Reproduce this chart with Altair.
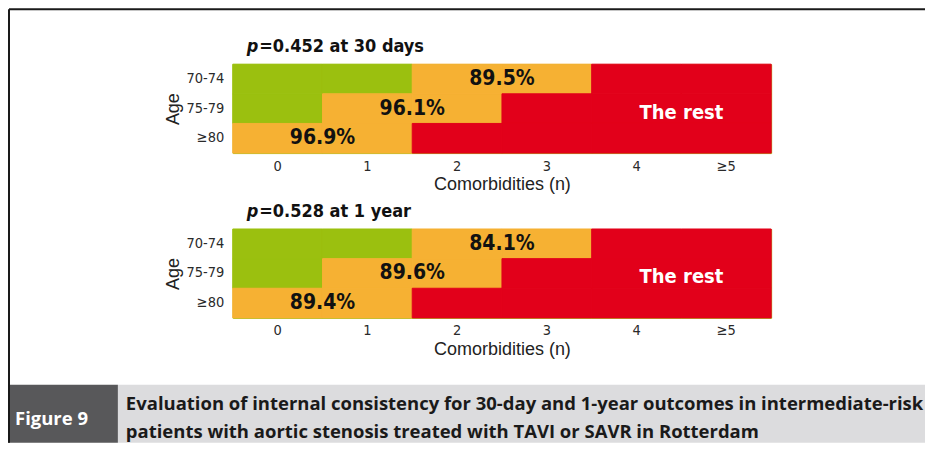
import altair as alt
import pandas as pd

ages = ["70-74", "75-79", "≥80"]
comorbidities = ["0", "1", "2", "3", "4", "≥5"]
zone_names = ["G", "O", "R"]
zone_colors = ["#9BC00F", "#F6B133", "#E2001A"]

# zone per age row (rows) and comorbidity column (cols)
zones_30d = [["G", "G", "O", "O", "R", "R"],
             ["G", "O", "O", "R", "R", "R"],
             ["O", "O", "R", "R", "R", "R"]]
zones_1y = [["G", "G", "O", "O", "R", "R"],
            ["G", "O", "O", "R", "R", "R"],
            ["O", "O", "R", "R", "R", "R"]]

labels_30d = ["89.5%", "96.1%", "96.9%"]
labels_1y = ["84.1%", "89.6%", "89.4%"]
label_start_col = ["2", "1", "0"]   # left column of the orange two-cell span
rest_label = "The rest"
rest_age = "75-79"
rest_col = "4"

p_values = ["0.452", "0.528"]
periods = ["at 30 days", "at 1 year"]

caption_tag = "Figure 9"
caption_lines = ["Evaluation of internal consistency for 30-day and 1-year outcomes in intermediate-risk",
                 "patients with aortic stenosis treated with TAVI or SAVR in Rotterdam"]

NARROW = "DejaVu Sans Condensed, DejaVu Sans, sans-serif"
SANS = "Liberation Sans, Arial, sans-serif"
CAP = "Open Sans, Lato, sans-serif"

W, H = 539, 89
zone_scale = alt.Scale(domain=zone_names, range=zone_colors)


def panel(zones, labels, pval, period):
    cells = pd.DataFrame([{"age": a, "n": c, "zone": z}
                          for a, row in zip(ages, zones) for c, z in zip(comorbidities, row)])
    lab = pd.DataFrame({"age": ages, "n": label_start_col, "text": labels})
    rest = pd.DataFrame({"age": [rest_age], "n": [rest_col], "text": [rest_label]})
    x = alt.X("n:N", sort=comorbidities,
              scale=alt.Scale(domain=comorbidities, paddingInner=0, paddingOuter=0),
              axis=alt.Axis(title="Comorbidities (n)", labelAngle=0, ticks=False, domain=False,
                            labelPadding=6, titlePadding=3, labelFont=NARROW, labelFontSize=14.5,
                            labelColor="#2a2a2a", titleFont=SANS, titleFontSize=18,
                            titleFontWeight="normal", titleColor="#222222"))
    y = alt.Y("age:N", sort=ages, scale=alt.Scale(domain=ages, paddingInner=0, paddingOuter=0),
              axis=alt.Axis(title="Age", ticks=False, domain=False, labelPadding=9,
                            titlePadding=3, labelFont=NARROW, labelFontSize=14.5,
                            labelColor="#2a2a2a", titleFont=SANS, titleFontSize=18,
                            titleFontWeight="normal", titleColor="#222222"))
    rect = alt.Chart(cells).mark_rect(strokeWidth=1).encode(
        x=x, y=y,
        color=alt.Color("zone:N", scale=zone_scale, legend=None),
        stroke=alt.Stroke("zone:N", scale=zone_scale, legend=None))
    txt = alt.Chart(lab).mark_text(font=NARROW, fontSize=21, fontWeight="bold", color="#111111").encode(
        x=alt.X("n:N", sort=comorbidities, bandPosition=1), y=alt.Y("age:N", sort=ages), text="text:N")
    rtxt = alt.Chart(rest).mark_text(font=NARROW, fontSize=20, fontWeight="bold", color="white", dy=4).encode(
        x=alt.X("n:N", sort=comorbidities, bandPosition=1), y=alt.Y("age:N", sort=ages), text="text:N")
    tdf = pd.DataFrame({"p": ["p"], "rest": ["=" + pval + " " + period]})
    t1 = alt.Chart(tdf).mark_text(font=NARROW, fontSize=18, fontWeight="bold", fontStyle="italic",
                                  align="left", color="#111111").encode(
        x=alt.value(14), y=alt.value(-17), text="p:N")
    t2 = alt.Chart(tdf).mark_text(font=NARROW, fontSize=18, fontWeight="bold",
                                  align="left", color="#111111").encode(
        x=alt.value(26.5), y=alt.value(-17), text="rest:N")
    return alt.layer(rect, txt, rtxt, t1, t2).properties(
        width=W, height=H, view=alt.ViewBackground(stroke="#A3BE18", strokeWidth=1))


p1 = panel(zones_30d, labels_30d, p_values[0], periods[0])
p2 = panel(zones_1y, labels_1y, p_values[1], periods[1])

dummy = pd.DataFrame({"a": [0]})
L, R, T, B = -224, 693, -385, 49
top_rule = alt.Chart(dummy).mark_rule(color="#1a1a1a", strokeWidth=2).encode(
    x=alt.value(L), x2=alt.value(R), y=alt.value(T))
left_rule = alt.Chart(dummy).mark_rule(color="#1a1a1a", strokeWidth=2).encode(
    x=alt.value(L), y=alt.value(T), y2=alt.value(B))
dark = alt.Chart(dummy).mark_rect(color="#58585A").encode(
    x=alt.value(L - 1), x2=alt.value(-115), y=alt.value(-9), y2=alt.value(B))
grey = alt.Chart(dummy).mark_rect(color="#DCDCDE").encode(
    x=alt.value(-115), x2=alt.value(R), y=alt.value(-9), y2=alt.value(B))
cdf = pd.DataFrame({"tag": [caption_tag], "l1": [caption_lines[0]], "l2": [caption_lines[1]]})
tag = alt.Chart(cdf).mark_text(font=CAP, fontSize=18.5, fontWeight="bold", color="white", align="left").encode(
    x=alt.value(-218), y=alt.value(25), text="tag:N")
c1 = alt.Chart(cdf).mark_text(font=CAP, fontSize=18.5, fontWeight="bold", color="#1a1a1a", align="left").encode(
    x=alt.value(-107), y=alt.value(10), text="l1:N")
c2 = alt.Chart(cdf).mark_text(font=CAP, fontSize=18.5, fontWeight="bold", color="#1a1a1a", align="left").encode(
    x=alt.value(-107), y=alt.value(38), text="l2:N")
cap = alt.layer(grey, dark, top_rule, left_rule, tag, c1, c2).properties(width=W, height=B)

chart = alt.vconcat(p1, p2, cap, spacing=76, bounds="flush").properties(
    padding=0, background="white").configure_view(strokeWidth=0)

chart.save("out.html", embed_options={"renderer": "svg", "actions": False})
